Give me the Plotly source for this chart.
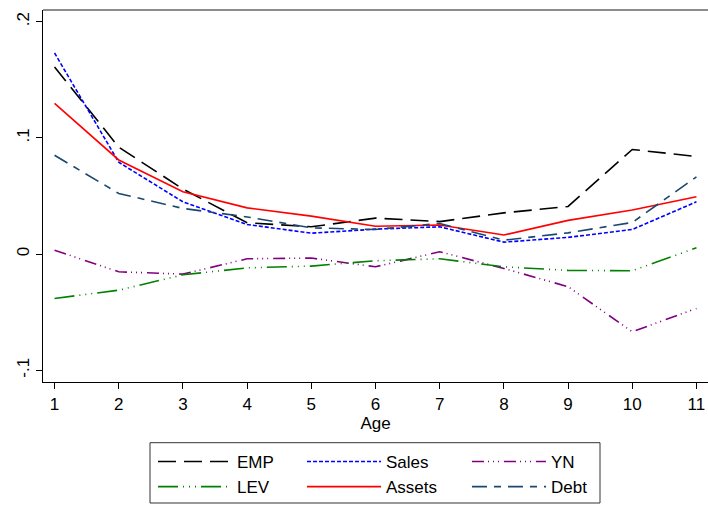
import plotly.graph_objects as go

age = list(range(1, 12))
emp = [0.161, 0.092, 0.056, 0.027, 0.0235, 0.031, 0.028, 0.0355, 0.041, 0.090, 0.084]
sales = [0.173, 0.079, 0.045, 0.0255, 0.018, 0.0215, 0.0235, 0.0103, 0.0144, 0.0212, 0.045]
yn = [0.0034, -0.0152, -0.0172, -0.004, -0.0034, -0.0109, 0.002, -0.0123, -0.028, -0.0668, -0.0467]
lev = [-0.0381, -0.031, -0.0178, -0.0118, -0.0103, -0.0057, -0.004, -0.0109, -0.014, -0.0143, 0.0054]
assets = [0.1297, 0.081, 0.0536, 0.0398, 0.0327, 0.024, 0.025, 0.0164, 0.029, 0.0379, 0.0493]
debt = [0.085, 0.0522, 0.0393, 0.032, 0.0226, 0.0212, 0.0264, 0.012, 0.0183, 0.0272, 0.0665]

ytickvals = [-0.1, 0, 0.1, 0.2]
yticktext = ["-.1", "0", ".1", ".2"]

FONT = "Liberation Sans, Arial, sans-serif"

series = [
    ("EMP", emp, "#000000", "18px,8px", "legend"),
    ("Sales", sales, "#0000ff", "4px,2px", "legend2"),
    ("YN", yn, "#800080", "12px,4px,1px,4px,1px,4px,1px,5px", "legend3"),
    ("LEV", lev, "#008000", "20px,5px,1px,5px,1px,5px,1px,5px", "legend"),
    ("Assets", assets, "#ff0000", "solid", "legend2"),
    ("Debt", debt, "#1a476f", "15px,7px,7px,7px", "legend3"),
]

fig = go.Figure()
for name, vals, col, dash, lg in series:
    fig.add_trace(go.Scatter(
        x=age, y=vals, mode="lines", name=name, legend=lg,
        line=dict(color=col, width=1.6, dash=dash),
    ))

W, H = 708, 505
ml, mr, mt, mb = 43, 0, 10, 123
pw, ph = W - ml - mr, H - mt - mb

def px2x(px):
    return (px - ml) / pw

def py2y(py):
    return (H - mb - py) / ph

legend_common = dict(
    orientation="v", itemwidth=74, bgcolor="rgba(0,0,0,0)", borderwidth=0,
    font=dict(family=FONT, size=17, color="#000000"),
    xanchor="left", yanchor="top", tracegroupgap=0,
)
legy = py2y(444.5)
fig.update_layout(
    width=W, height=H,
    margin=dict(l=ml, r=mr, t=mt, b=mb),
    paper_bgcolor="white", plot_bgcolor="white",
    font=dict(family=FONT, size=17, color="#000000"),
    showlegend=True,
    legend=dict(x=px2x(153), y=legy, **legend_common),
    legend2=dict(x=px2x(302), y=legy, **legend_common),
    legend3=dict(x=px2x(467), y=legy, **legend_common),
    xaxis=dict(
        range=[0.82, 11.18], tickvals=age, ticktext=[str(a) for a in age],
        showgrid=False, zeroline=False, showline=True, linecolor="#000000", linewidth=1.3,
        ticks="outside", ticklen=6, tickcolor="#000000",
        tickfont=dict(family=FONT, size=17),
        title=dict(text="Age", font=dict(family=FONT, size=17), standoff=3),
    ),
    yaxis=dict(
        range=[-0.11, 0.21], tickvals=ytickvals, ticktext=yticktext,
        showgrid=False, zeroline=False, showline=True, linecolor="#000000", linewidth=1.3,
        ticks="outside", ticklen=6, tickcolor="#000000", tickangle=-90,
        tickfont=dict(family=FONT, size=17),
    ),
    shapes=[
        dict(type="line", xref="paper", yref="paper", x0=0, x1=1, y0=1, y1=1,
             line=dict(color="#666666", width=1.3)),
        dict(type="rect", xref="paper", yref="paper",
             x0=px2x(150), x1=px2x(600), y0=py2y(503), y1=py2y(442.7),
             line=dict(color="#333333", width=1)),
    ],
)

fig.write_html("out.html")
